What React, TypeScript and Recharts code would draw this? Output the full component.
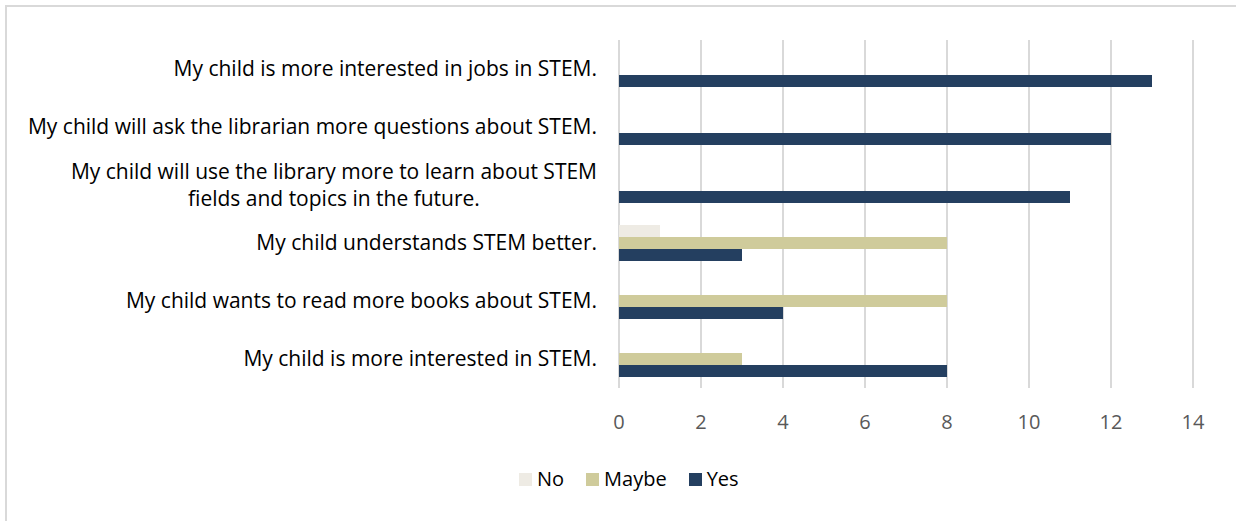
import React from 'react';
import { BarChart, Bar, XAxis, YAxis, CartesianGrid, Legend } from 'recharts';

const statements = [
  'My child is more interested in jobs in STEM.',
  'My child will ask the librarian more questions about STEM.',
  'My child will use the library more to learn about STEM|fields and topics in the future.',
  'My child understands STEM better.',
  'My child wants to read more books about STEM.',
  'My child is more interested in STEM.',
];
const noCounts = [0, 0, 0, 1, 0, 0];
const maybeCounts = [0, 0, 0, 8, 8, 3];
const yesCounts = [13, 12, 11, 3, 4, 8];
const xTicks = [0, 2, 4, 6, 8, 10, 12, 14];

const SERIES = [
  { key: 'No', color: '#eeebe4' },
  { key: 'Maybe', color: '#cfcb9b' },
  { key: 'Yes', color: '#243f60' },
];

const FONT = '"Open Sans", sans-serif';
const LABEL_SIZE = 21;

const data = statements.map((s, i) => ({
  name: s,
  No: noCounts[i],
  Maybe: maybeCounts[i],
  Yes: yesCounts[i],
}));

let canvas: HTMLCanvasElement | null = null;
const measure = (txt: string, size: number) => {
  if (!canvas) canvas = document.createElement('canvas');
  const ctx = canvas.getContext('2d')!;
  ctx.font = `${size}px ${FONT}`;
  return ctx.measureText(txt).width;
};

const CategoryTick = (props: any) => {
  const { x, y, payload } = props;
  const lines: string[] = String(payload.value).split('|');
  if (lines.length === 1) {
    return (
      <text x={x} y={y} dy="0.35em" textAnchor="end" fontSize={LABEL_SIZE} fontFamily={FONT} fill="#000">
        {lines[0]}
      </text>
    );
  }
  const w = Math.max(...lines.map((l) => measure(l, LABEL_SIZE)));
  const cx = x - w / 2;
  const lh = 27;
  const top = y - ((lines.length - 1) * lh) / 2;
  return (
    <g>
      {lines.map((l, i) => (
        <text key={i} x={cx} y={top + i * lh} dy="0.35em" textAnchor="middle" fontSize={LABEL_SIZE} fontFamily={FONT} fill="#000">
          {l}
        </text>
      ))}
    </g>
  );
};

const LegendContent = () => (
  <div style={{ display: 'flex', alignItems: 'center', fontFamily: FONT, fontSize: 20, color: '#000', lineHeight: '26px' }}>
    {SERIES.map((s) => (
      <div key={s.key} style={{ display: 'flex', alignItems: 'center', marginRight: 22 }}>
        <span style={{ width: 13, height: 13, background: s.color, display: 'inline-block', marginRight: 5 }} />
        <span>{s.key}</span>
      </div>
    ))}
  </div>
);

export default function App() {
  return (
    <div style={{ position: 'absolute', left: 0, top: 0, width: 1236, height: 521, overflow: 'hidden', background: '#fff' }}>
      <div
        style={{
          position: 'absolute',
          left: 5,
          top: 5,
          width: 1260,
          height: 540,
          border: '2px solid #d9d9d9',
          boxSizing: 'border-box',
        }}
      />
      <div style={{ position: 'absolute', left: 0, top: 0 }}>
        <BarChart
          width={1236}
          height={521}
          data={data}
          layout="vertical"
          margin={{ top: 40, right: 43, bottom: 77, left: 0 }}
          barGap={0}
          barSize={12}
        >
          <CartesianGrid horizontal={false} stroke="#d9d9d9" strokeWidth={2} />
          <XAxis
            type="number"
            domain={[0, 14]}
            ticks={xTicks}
            axisLine={false}
            tickLine={false}
            tickSize={0}
            tickMargin={27}
            height={30}
            tick={{ fontSize: 20, fill: '#595959', fontFamily: FONT }}
          />
          <YAxis
            type="category"
            dataKey="name"
            width={619}
            axisLine={false}
            tickLine={false}
            tickSize={0}
            tickMargin={22}
            interval={0}
            tick={<CategoryTick />}
          />
          <Legend
            content={<LegendContent />}
            wrapperStyle={{ left: 519, top: 466, width: 'auto' }}
          />
          {SERIES.map((s) => (
            <Bar key={s.key} dataKey={s.key} fill={s.color} isAnimationActive={false} />
          ))}
        </BarChart>
      </div>
    </div>
  );
}
